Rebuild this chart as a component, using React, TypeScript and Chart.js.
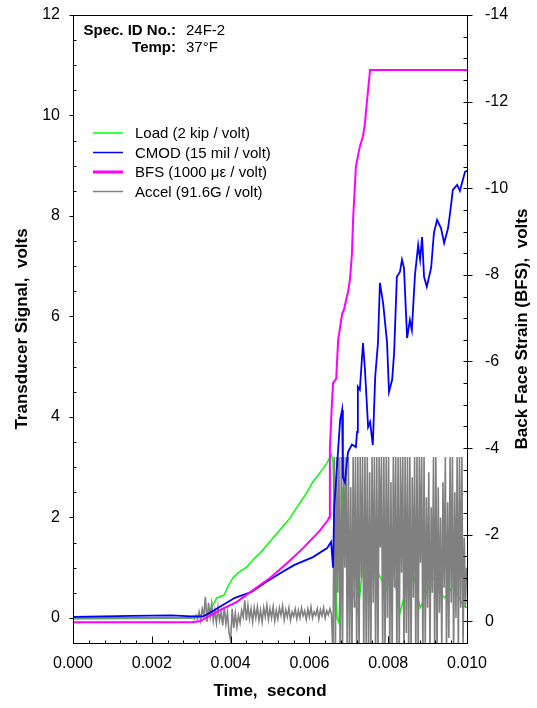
import React, { useEffect, useRef } from "react";
import { Chart, registerables } from "chart.js";

Chart.register(...registerables);

// ---------- data ----------
const seriesLabels = ["Load (2 kip / volt)", "CMOD (15 mil / volt)", "BFS (1000 με / volt)", "Accel (91.6G / volt)"];
const seriesColors = ["#00ff00", "#0000ff", "#ff00ff", "#808080"];

const loadTime = [0, 0.003, 0.0033, 0.00343, 0.00355, 0.00365, 0.00373, 0.00383, 0.00395, 0.00406,
  0.0042, 0.00442, 0.0046, 0.00475, 0.005, 0.00525, 0.0055, 0.00569, 0.0059, 0.00609,
  0.0063, 0.00645, 0.00656,
  0.0066, 0.00665, 0.0067, 0.00675, 0.0068, 0.00685, 0.00693, 0.007, 0.00708, 0.00716,
  0.00723, 0.00734, 0.00744, 0.00754, 0.00764, 0.00774, 0.00787, 0.00797, 0.0081, 0.0082,
  0.0083, 0.00843, 0.00853, 0.0086, 0.00871, 0.00881, 0.00893, 0.00906, 0.00919, 0.00931,
  0.00944, 0.00954, 0.00964, 0.00977, 0.0099, 0.01];
const loadVolts = [-0.02, 0.0, 0.02, 0.10, 0.25, 0.40, 0.42, 0.45, 0.65, 0.80,
  0.90, 1.02, 1.18, 1.29, 1.52, 1.75, 1.98, 2.21, 2.45, 2.71,
  2.92, 3.09, 3.25,
  3.1, 1.5, 0.0, -0.1, 1.1, 2.6, 2.2, 1.2, 0.6, 0.3,
  0.1, 0.9, 1.5, 1.75, 1.3, 0.9, 0.7, 0.55, 1.15, 0.6,
  0.1, 0.5, 0.9, 1.0, 0.6, 0.2, 0.4, 0.7, 0.8, 0.5,
  0.4, 0.5, 0.65, 0.45, 0.25, 0.2];

const cmodTime = [0, 0.0015, 0.0025, 0.003, 0.0033, 0.00343, 0.00373, 0.00411, 0.00454, 0.00487,
  0.00528, 0.00561, 0.00609, 0.00645, 0.00655, 0.0066, 0.00663, 0.0067, 0.00678, 0.00683,
  0.00685, 0.0069, 0.00698, 0.00708, 0.00718, 0.00721, 0.00723, 0.00728, 0.00736, 0.00741,
  0.00749, 0.00754, 0.00761, 0.00767, 0.00774, 0.00779, 0.00787, 0.00797, 0.00802, 0.0081,
  0.00815, 0.00822, 0.0083, 0.00835, 0.0084, 0.00848, 0.00855, 0.0086, 0.00868, 0.00876,
  0.00881, 0.00886, 0.00891, 0.00898, 0.00909, 0.00916, 0.00924, 0.00934, 0.00942, 0.00952,
  0.00959, 0.00964, 0.00975, 0.00982, 0.00995, 0.01];
const cmodVolts = [0.02, 0.04, 0.05, 0.03, 0.03, 0.08, 0.22, 0.40, 0.52, 0.70,
  0.90, 1.05, 1.21, 1.39, 1.51, 1.00, 2.20, 3.00, 3.94, 4.14,
  2.80, 2.70, 3.30, 3.45, 3.40, 3.70, 4.60, 4.54, 5.47, 4.94,
  3.80, 3.90, 3.44, 4.80, 5.47, 6.67, 6.27, 5.49, 4.50, 4.74,
  5.27, 6.79, 6.89, 7.13, 6.97, 5.57, 5.93, 5.73, 6.83, 7.42,
  7.13, 7.58, 6.79, 6.59, 6.97, 7.66, 7.92, 7.76, 7.46, 7.76,
  8.18, 8.52, 8.62, 8.50, 8.88, 8.90];

const bfsTime = [0, 0.003, 0.00322, 0.00373, 0.00416, 0.00457, 0.005, 0.00543, 0.00584, 0.00627,
  0.00647, 0.0065, 0.00652, 0.00657, 0.0066, 0.00668, 0.00673, 0.00683, 0.00688, 0.00695,
  0.00698, 0.00703, 0.00708, 0.00711, 0.00718, 0.00728, 0.00736, 0.00741, 0.00746, 0.00754,
  0.01];
const bfsVolts = [0.02, 0.02, 0.0, -0.26, -0.45, -0.72, -1.0, -1.34, -1.69, -2.1,
  -2.34, -2.4, -4.0, -5.0, -5.5, -5.6, -6.5, -7.1, -7.2, -7.5,
  -7.6, -7.9, -8.5, -9.3, -10.5, -10.96, -11.2, -11.5, -12.0, -12.73,
  -12.73];

// accelerometer: quiet until t = 0.003, then two sampled stretches
const accelQuietTime = [0];
const accelQuietVolts = [0];
const accelPreStart = 0.003;
const accelPreStep = 0.00004;
const accelPreVolts = [
  0.00, 0.03, -0.02, 0.05, -0.03, 0.12, -0.05, 0.18, 0.05, 0.42,
  -0.08, 0.30, 0.02, 0.28, -0.06, 0.15, -0.10, 0.20, -0.05, 0.12,
  -0.15, 0.22, -0.12, 0.10, -0.30, -0.45, 0.18, -0.20, 0.10, -0.18,
  0.05, -0.10, 0.15, 0.02, 0.35, -0.05, 0.25, -0.02, 0.18, -0.08,
  0.20, 0.00, 0.22, -0.05, 0.15, -0.08, 0.20, 0.02, 0.25, -0.03,
  0.18, 0.00, 0.22, -0.06, 0.15, -0.02, 0.20, 0.05, 0.24, -0.04,
  0.16, 0.02, 0.20, -0.05, 0.12, 0.03, 0.18, -0.02, 0.15, 0.00,
  0.20, 0.04, 0.14, -0.03, 0.18, 0.02, 0.22, 0.00, 0.12, 0.05,
  0.18, -0.02, 0.16, 0.04, 0.20, 0.00, 0.14, 0.06, 0.18, 0.08,
];
const accelPostStart = 0.0066;
const accelPostStep = 0.00003;
const accelPostVolts = [
  -0.8, 3.2, -0.8, 3.2, 0.5, 3.2, -0.8, 3.2, -0.8, 3.2,
  1.0, 3.2, -0.8, 3.2, -0.8, 2.6, -0.8, 3.2, 0.2, 3.2,
  -0.8, 3.2, -0.8, 3.2, 0.8, 3.2, -0.8, 3.2, -0.5, 3.2,
  -0.8, 2.9, -0.8, 3.2, 0.3, 3.2, -0.8, 3.2, -0.8, 3.2,
  1.4, 3.2, -0.8, 3.2, -0.8, 3.2, 0.0, 3.2, -0.8, 2.7,
  -0.8, 3.2, 0.6, 3.2, -0.8, 3.2, -0.8, 3.2, 0.9, 3.2,
  -0.8, 3.2, -0.3, 3.2, -0.8, 3.2, -0.8, 2.8, 0.4, 3.2,
  -0.8, 3.2, -0.8, 3.2, 1.1, 3.2, -0.8, 3.2, -0.6, 2.4,
  0.2, 2.9, -0.8, 2.2, 0.5, 3.2, -0.8, 3.2, -0.8, 2.6,
  0.1, 2.0, -0.7, 2.7, 0.6, 3.2, -0.8, 2.3, -0.4, 3.2,
  0.3, 3.2, -0.8, 2.5, 0.0, 3.2, -0.8, 3.2, 0.2, 3.2,
  -0.6, 1.6, 0.2, 1.0,
];

const timeMajorTicks = [0, 0.002, 0.004, 0.006, 0.008, 0.01];
const leftMajorTicks = [0, 2, 4, 6, 8, 10, 12];
const rightMajorTicks = [0, -2, -4, -6, -8, -10, -12, -14];

const specLines = [["Spec. ID No.:", "24F-2"], ["Temp:", "37°F"]];

// ---------- helpers ----------
const FONT = "'Liberation Sans', Arial, Helvetica, sans-serif";
const pairs = (xs: number[], ys: number[]) => xs.map((x, i) => ({ x, y: ys[i] }));
const sampled = (start: number, step: number, ys: number[]) => ys.map((y, i) => ({ x: start + i * step, y }));
const isMajor = (v: number, list: number[]) => list.some((m) => Math.abs(m - v) < 1e-9 + Math.abs(m) * 1e-6);

const accelPoints = [
  ...pairs(accelQuietTime, accelQuietVolts),
  ...sampled(accelPreStart, accelPreStep, accelPreVolts),
  ...sampled(accelPostStart, accelPostStep, accelPostVolts),
];

const decorPlugin = {
  id: "decor",
  afterDatasetsDraw(chart: any) {
    const { ctx, chartArea: a } = chart;
    const xs = chart.scales.x;
    const yl = chart.scales.y;
    const yr = chart.scales.y2;
    const L = Math.round(a.left) + 0.5;
    const R = Math.round(a.right) + 0.5;
    const T = Math.round(a.top) + 0.5;
    const B = Math.round(a.bottom) + 0.5;
    ctx.save();
    ctx.strokeStyle = "#000";
    ctx.lineWidth = 1;
    ctx.strokeRect(L, T, R - L, B - T);
    ctx.beginPath();
    xs.ticks.forEach((t: any) => {
      const px = Math.round(xs.getPixelForValue(t.value)) + 0.5;
      const major = isMajor(t.value, timeMajorTicks);
      ctx.moveTo(px, B);
      ctx.lineTo(px, B - (major ? 7 : 3));
    });
    yl.ticks.forEach((t: any) => {
      const py = Math.round(yl.getPixelForValue(t.value)) + 0.5;
      if (isMajor(t.value, leftMajorTicks)) {
        ctx.moveTo(L - 4, py);
        ctx.lineTo(L, py);
      } else {
        ctx.moveTo(L, py);
        ctx.lineTo(L + 3, py);
      }
    });
    yr.ticks.forEach((t: any) => {
      const py = Math.round(yr.getPixelForValue(t.value)) + 0.5;
      if (isMajor(t.value, rightMajorTicks)) {
        ctx.moveTo(R - 4, py);
        ctx.lineTo(R + 5, py);
      } else {
        ctx.moveTo(R - 4, py);
        ctx.lineTo(R, py);
      }
    });
    ctx.stroke();

    // right axis title (reads bottom-to-top)
    ctx.fillStyle = "#000";
    ctx.font = `bold 17px ${FONT}`;
    ctx.textAlign = "center";
    ctx.textBaseline = "middle";
    ctx.save();
    ctx.translate(522, (a.top + a.bottom) / 2);
    ctx.rotate(-Math.PI / 2);
    ctx.fillText("Back Face Strain (BFS),  volts", 0, 0);
    ctx.restore();

    // specimen info
    specLines.forEach((row, i) => {
      const y = 31 + i * 17;
      ctx.font = `bold 15px ${FONT}`;
      ctx.textAlign = "right";
      ctx.fillText(row[0], 176, y);
      ctx.font = `15px ${FONT}`;
      ctx.textAlign = "left";
      ctx.fillText(row[1], 186, y);
    });

    // legend
    const legendWidths = [1.5, 1.5, 3, 1.5];
    chart.data.datasets.forEach((ds: any, i: number) => {
      const y = 133 + i * 19.5;
      ctx.strokeStyle = ds.borderColor;
      ctx.lineWidth = legendWidths[i];
      ctx.beginPath();
      ctx.moveTo(93, y);
      ctx.lineTo(123, y);
      ctx.stroke();
      ctx.fillStyle = "#000";
      ctx.font = `15px ${FONT}`;
      ctx.textAlign = "left";
      ctx.textBaseline = "middle";
      ctx.fillText(ds.label, 135, y + 1);
    });
    ctx.restore();
  },
};

export default function App() {
  const ref = useRef<HTMLCanvasElement>(null);

  useEffect(() => {
    Chart.defaults.font.family = FONT;
    Chart.defaults.color = "#000";
    const chart = new Chart(ref.current as HTMLCanvasElement, {
      type: "line",
      data: {
        datasets: [
          {
            label: seriesLabels[0],
            data: pairs(loadTime, loadVolts),
            borderColor: seriesColors[0],
            borderWidth: 1.5,
            yAxisID: "y",
            order: 3,
          },
          {
            label: seriesLabels[1],
            data: pairs(cmodTime, cmodVolts),
            borderColor: seriesColors[1],
            borderWidth: 1.8,
            yAxisID: "y",
            order: 1,
          },
          {
            label: seriesLabels[2],
            data: pairs(bfsTime, bfsVolts),
            borderColor: seriesColors[2],
            borderWidth: 2,
            yAxisID: "y2",
            order: 0,
          },
          {
            label: seriesLabels[3],
            data: accelPoints,
            borderColor: seriesColors[3],
            borderWidth: 1.6,
            yAxisID: "y",
            order: 2,
          },
        ] as any,
      },
      options: {
        animation: false,
        responsive: false,
        devicePixelRatio: 1,
        events: [],
        layout: { padding: { top: 15, left: 0, right: 0, bottom: 0 } },
        elements: {
          point: { radius: 0 },
          line: { tension: 0, fill: false },
        },
        datasets: { line: { clip: 0 } } as any,
        plugins: {
          legend: { display: false },
          tooltip: { enabled: false },
          title: { display: false },
        },
        scales: {
          x: {
            type: "linear",
            position: "bottom",
            min: 0,
            max: 0.01,
            grid: { display: false, drawTicks: false },
            border: { display: false },
            ticks: {
              stepSize: 0.0004,
              autoSkip: false,
              maxRotation: 0,
              padding: 11,
              font: { size: 16 },
              color: "#000",
              callback: (v: any) => (isMajor(Number(v), timeMajorTicks) ? Number(v).toFixed(3) : ""),
            },
            title: {
              display: true,
              text: "Time,  second",
              font: { size: 17, weight: "bold" },
              color: "#000",
              padding: { top: 0, bottom: 6 },
            },
            afterFit: (s: any) => {
              s.height = 65;
              s.paddingLeft = 0;
              s.paddingRight = 0;
            },
          },
          y: {
            type: "linear",
            position: "left",
            min: -0.5,
            max: 12,
            grid: { display: false, drawTicks: false },
            border: { display: false },
            ticks: {
              stepSize: 0.5,
              autoSkip: false,
              padding: 13,
              font: { size: 16 },
              color: "#000",
              callback: (v: any) => (isMajor(Number(v), leftMajorTicks) ? String(Math.round(Number(v))) : ""),
            },
            title: {
              display: true,
              text: "Transducer Signal,  volts",
              font: { size: 17, weight: "bold" },
              color: "#000",
              padding: { top: 12, bottom: 0 },
            },
            afterFit: (s: any) => {
              s.width = 73;
              s.paddingTop = 0;
              s.paddingBottom = 0;
            },
          },
          y2: {
            type: "linear",
            position: "right",
            reverse: true,
            min: -14,
            max: 0.5,
            grid: { display: false, drawTicks: false },
            border: { display: false },
            ticks: {
              stepSize: 0.5,
              autoSkip: false,
              padding: 18,
              font: { size: 16 },
              color: "#000",
              callback: (v: any) => (isMajor(Number(v), rightMajorTicks) ? String(Math.round(Number(v))) : ""),
            },
            title: { display: false },
            afterFit: (s: any) => {
              s.width = 70;
              s.paddingTop = 0;
              s.paddingBottom = 0;
            },
          },
        },
      } as any,
      plugins: [decorPlugin],
    });
    return () => chart.destroy();
  }, []);

  return (
    <div style={{ position: "absolute", left: 0, top: 0, width: 537, height: 708, background: "#fff" }}>
      <canvas ref={ref} width={537} height={708} style={{ display: "block", width: 537, height: 708 }} />
    </div>
  );
}
